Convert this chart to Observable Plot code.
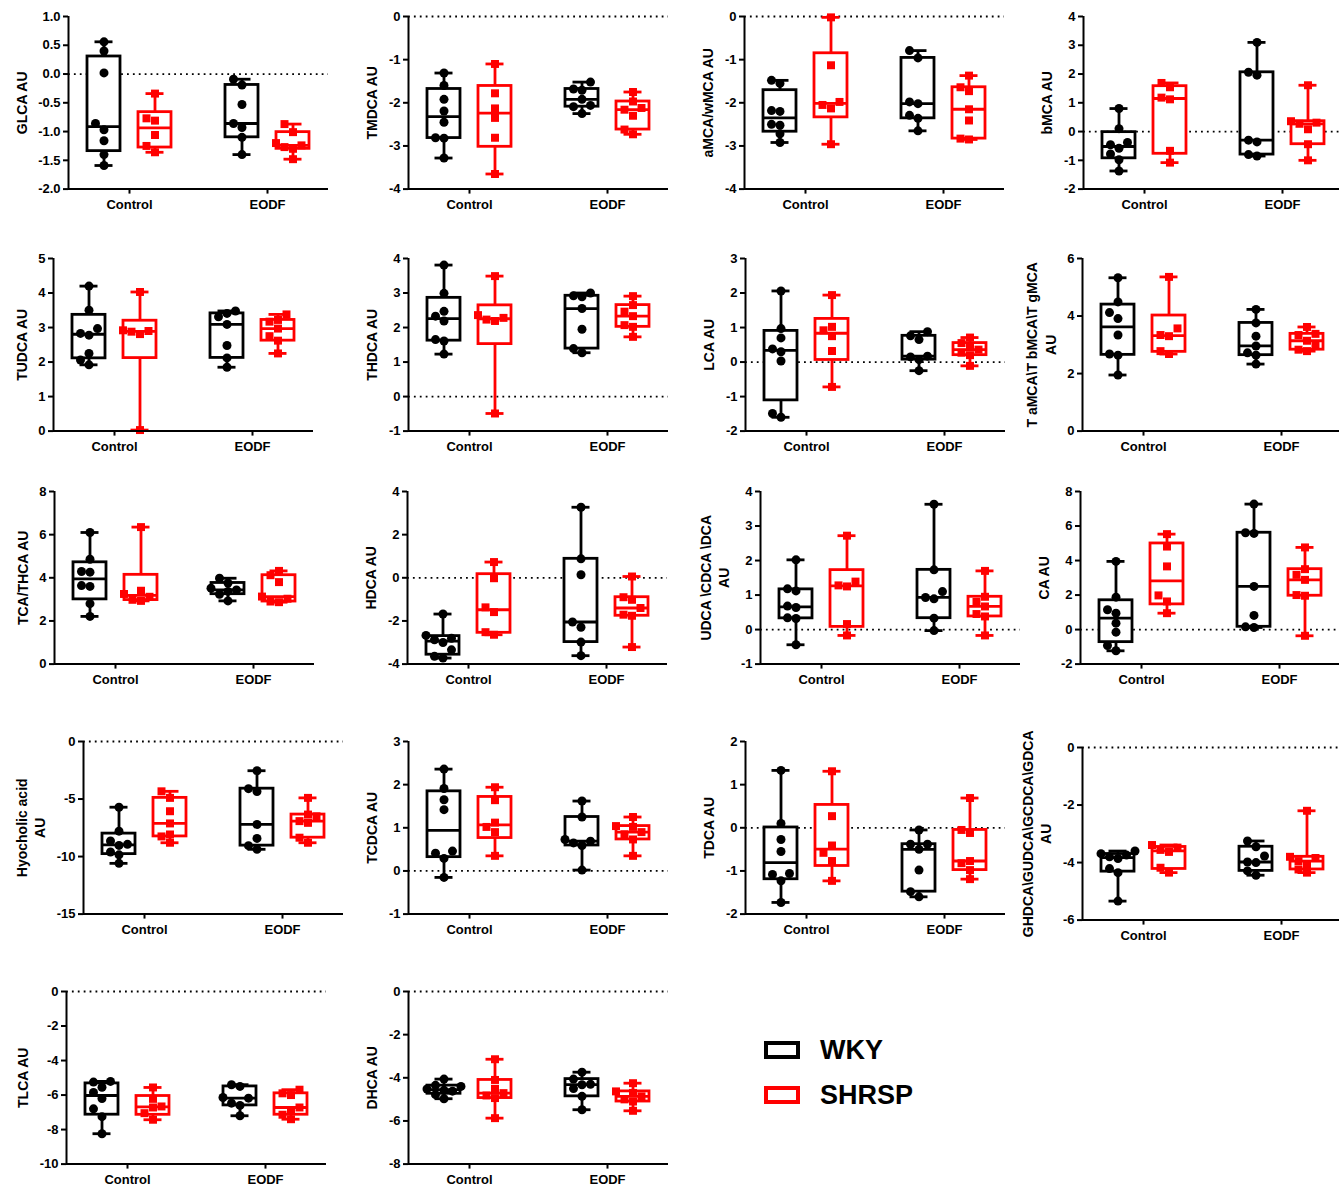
<!DOCTYPE html>
<html>
<head>
<meta charset="utf-8">
<script src="https://cdn.jsdelivr.net/npm/d3@7"></script>
<script src="https://cdn.jsdelivr.net/npm/@observablehq/plot@0.6"></script>
<style>
  html, body { margin: 0; padding: 0; background: #fff; overflow: hidden; }
  #fig { position: relative; width: 1339px; height: 1188px; overflow: hidden; background: #fff;
         font-family: "Liberation Sans", Arial, sans-serif; }
  .panel { position: absolute; }
  .legend-item { position: absolute; display: flex; align-items: center; font-weight: bold;
                 font-size: 27px; line-height: 30px; color: #000; }
  .swatch { width: 36px; height: 18px; box-sizing: border-box; border: 4px solid; margin-right: 20px; background: #fff; }
</style>
</head>
<body>
<div id="fig"></div>
<script>
// ---------------- data ----------------
const categories = ["Control", "EODF"];
const strains = ["WKY", "SHRSP"];
const strainColors = ["#000000", "#ff0000"];

// each analyte: [Control-WKY, Control-SHRSP, EODF-WKY, EODF-SHRSP]
const GLCA = [
  [0.56, 0.40, 0.02, -0.86, -0.97, -1.16, -1.40, -1.59],
  [-0.34, -0.77, -0.81, -1.06, -1.25, -1.36],
  [-0.09, -0.19, -0.53, -0.86, -0.93, -1.10, -1.40],
  [-0.87, -1.01, -1.20, -1.24, -1.27, -1.30, -1.48]
];
const TMDCA = [
  [-1.31, -1.60, -1.92, -2.19, -2.45, -2.81, -2.82, -3.28],
  [-1.10, -1.78, -2.13, -2.35, -2.81, -3.65],
  [-1.52, -1.68, -1.71, -1.92, -2.06, -2.09, -2.25],
  [-1.75, -1.97, -2.12, -2.16, -2.30, -2.62, -2.73]
];
const aMCA_wMCA = [
  [-1.48, -1.55, -2.18, -2.20, -2.50, -2.52, -2.72, -2.92],
  [-0.02, -1.13, -1.98, -2.05, -2.13, -2.96],
  [-0.79, -0.96, -1.98, -2.02, -2.29, -2.36, -2.65],
  [-1.37, -1.64, -1.73, -2.15, -2.41, -2.83, -2.85]
];
const bMCA = [
  [0.80, 0.10, -0.38, -0.46, -0.58, -0.78, -0.98, -1.37],
  [1.69, 1.54, 1.18, 1.12, -0.67, -1.08],
  [3.10, 2.06, 1.96, -0.30, -0.36, -0.80, -0.85],
  [1.61, 0.36, 0.31, 0.27, 0.08, -0.44, -1.00]
];
const TUDCA = [
  [4.20, 3.50, 2.97, 2.83, 2.78, 2.25, 2.06, 1.92],
  [4.03, 2.92, 2.90, 2.88, 2.81, 0.03],
  [3.48, 3.41, 3.31, 3.09, 2.48, 2.12, 1.85],
  [3.38, 3.22, 3.17, 2.97, 2.75, 2.62, 2.25]
];
const THDCA = [
  [3.81, 2.99, 2.47, 2.33, 2.19, 1.65, 1.61, 1.23],
  [3.49, 2.36, 2.28, 2.23, 2.19, -0.49],
  [3.00, 2.92, 2.89, 2.55, 1.95, 1.39, 1.27],
  [2.91, 2.65, 2.46, 2.33, 2.07, 2.02, 1.73]
];
const LCA = [
  [2.06, 0.97, 0.70, 0.38, 0.30, 0.03, -1.49, -1.60],
  [1.94, 1.02, 0.92, 0.75, 0.32, -0.72],
  [0.88, 0.76, 0.65, 0.17, 0.15, 0.07, -0.25],
  [0.71, 0.55, 0.44, 0.36, 0.27, 0.20, -0.11]
];
const TMCA = [
  [5.33, 4.49, 4.12, 3.91, 3.34, 2.68, 2.64, 1.95],
  [5.36, 3.57, 3.34, 3.30, 2.78, 2.68],
  [4.23, 3.76, 3.30, 2.96, 2.72, 2.64, 2.33],
  [3.62, 3.38, 3.34, 3.14, 2.99, 2.83, 2.78]
];
const TCA_THCA = [
  [6.10, 4.86, 4.29, 4.26, 3.64, 3.60, 2.80, 2.21],
  [6.35, 3.40, 3.25, 3.12, 2.98, 2.93],
  [3.98, 3.76, 3.52, 3.44, 3.37, 3.24, 2.93],
  [4.32, 4.12, 3.80, 3.13, 3.03, 2.90, 2.87]
];
const HDCA = [
  [-1.68, -2.67, -2.80, -2.87, -3.00, -3.34, -3.64, -3.72],
  [0.73, -0.02, -1.37, -1.59, -2.52, -2.64],
  [3.27, 0.88, 0.14, -2.05, -2.29, -2.98, -3.61],
  [0.06, -0.90, -1.02, -1.40, -1.71, -1.76, -3.21]
];
const UDCA_CDCA_DCA = [
  [2.02, 1.18, 1.12, 0.68, 0.64, 0.34, 0.32, -0.44],
  [2.72, 1.39, 1.28, 1.25, 0.16, -0.17],
  [3.63, 1.73, 1.10, 0.93, 0.89, 0.33, -0.03],
  [1.70, 0.95, 0.80, 0.67, 0.45, 0.38, -0.17]
];
const CA = [
  [3.95, 1.88, 1.15, 0.95, 0.37, -0.15, -0.92, -1.23],
  [5.53, 4.81, 3.66, 1.98, 1.63, 0.95],
  [7.27, 5.61, 5.57, 2.50, 0.82, 0.16, 0.12],
  [4.76, 3.50, 3.17, 2.88, 2.00, 1.96, -0.36]
];
const Hyocholic = [
  [-5.71, -7.79, -8.65, -8.94, -9.03, -9.60, -9.85, -10.59],
  [-4.33, -4.90, -6.06, -7.12, -8.08, -8.25, -8.80],
  [-2.54, -4.10, -4.35, -7.21, -8.42, -9.05, -9.37],
  [-4.90, -6.35, -6.50, -6.92, -7.07, -8.36, -8.80]
];
const TCDCA = [
  [2.36, 1.91, 1.65, 1.42, 0.46, 0.41, 0.29, -0.15],
  [1.94, 1.64, 1.12, 1.02, 0.90, 0.35],
  [1.62, 1.25, 0.73, 0.69, 0.65, 0.59, 0.02],
  [1.25, 1.04, 1.02, 0.90, 0.85, 0.73, 0.35]
];
const TDCA = [
  [1.33, 0.10, -0.27, -0.55, -1.06, -1.08, -1.23, -1.73],
  [1.31, 0.27, -0.41, -0.58, -0.77, -1.23],
  [-0.05, -0.38, -0.38, -0.50, -0.98, -1.48, -1.60],
  [0.69, -0.05, -0.12, -0.77, -0.82, -0.98, -1.19]
];
const GHDCA = [
  [-3.60, -3.69, -3.74, -3.80, -3.86, -4.21, -4.35, -5.34],
  [-3.39, -3.48, -3.56, -3.63, -4.18, -4.35],
  [-3.25, -3.45, -3.77, -3.98, -4.00, -4.29, -4.44],
  [-2.20, -3.80, -3.84, -3.95, -4.05, -4.24, -4.35]
];
const TLCA = [
  [-5.21, -5.25, -5.55, -5.85, -6.20, -6.80, -7.25, -8.24],
  [-5.56, -6.22, -6.66, -6.72, -7.05, -7.43],
  [-5.40, -5.50, -6.14, -6.18, -6.47, -6.60, -7.20],
  [-5.69, -5.90, -6.00, -6.72, -6.90, -7.14, -7.40]
];
const DHCA = [
  [-4.06, -4.35, -4.40, -4.52, -4.58, -4.62, -4.78, -4.97],
  [-3.14, -4.10, -4.51, -4.71, -4.82, -4.94, -5.87],
  [-3.74, -4.06, -4.30, -4.32, -4.50, -4.86, -5.48],
  [-4.25, -4.63, -4.70, -4.86, -5.00, -5.10, -5.53]
];

// axis labels and ticks
const yLabels = [
  "GLCA AU", "TMDCA AU", "aMCA/wMCA AU", "bMCA AU",
  "TUDCA AU", "THDCA AU", "LCA AU", "T aMCA\\T bMCA\\T gMCA\nAU",
  "TCA/THCA AU", "HDCA AU", "UDCA \\CDCA \\DCA\nAU", "CA AU",
  "Hyocholic acid\nAU", "TCDCA AU", "TDCA AU", "GHDCA\\GUDCA\\GCDCA\\GDCA\nAU",
  "TLCA AU", "DHCA AU"
];
const seriesList = [GLCA, TMDCA, aMCA_wMCA, bMCA, TUDCA, THDCA, LCA, TMCA,
  TCA_THCA, HDCA, UDCA_CDCA_DCA, CA, Hyocholic, TCDCA, TDCA, GHDCA, TLCA, DHCA];
const yTickValues = [
  [-2, -1.5, -1, -0.5, 0, 0.5, 1], [-4, -3, -2, -1, 0], [-4, -3, -2, -1, 0], [-2, -1, 0, 1, 2, 3, 4],
  [0, 1, 2, 3, 4, 5], [-1, 0, 1, 2, 3, 4], [-2, -1, 0, 1, 2, 3], [0, 2, 4, 6],
  [0, 2, 4, 6, 8], [-4, -2, 0, 2, 4], [-1, 0, 1, 2, 3, 4], [-2, 0, 2, 4, 6, 8],
  [-15, -10, -5, 0], [-1, 0, 1, 2, 3], [-2, -1, 0, 1, 2], [-6, -4, -2, 0],
  [-10, -8, -6, -4, -2, 0], [-8, -6, -4, -2, 0]
];
const yTickDecimals = [1, 0, 0, 0, 0, 0, 0, 0, 0, 0, 0, 0, 0, 0, 0, 0, 0, 0];

// ---------------- layout ----------------
// left edge (y axis) and top of each plot frame, in page pixels
const panelOrigins = [
  [68, 16], [408, 16], [744, 16], [1083, 16],
  [53, 258], [408, 258], [745, 258], [1082, 258],
  [54, 491], [407, 491], [760, 491], [1080, 491],
  [83, 741], [408, 741], [745, 741], [1082, 747],
  [66, 991], [408, 991]
];
const FONT = '"Liberation Sans", Arial, sans-serif';
const ML = 84, MR = 6, MT = 8, MB = 34, PW = 260, PH = 172.6;
const xDomain = [-0.442, 1.442];
const pxPerX = PW / (xDomain[1] - xDomain[0]);
const dodge = 25.5 / pxPerX, boxHalf = 16.5 / pxPerX, capHalf = 9 / pxPerX;
const SW = 2.8;
const TICK_FONT = 13;

// Prism-style (n+1) quantile
function quant(sorted, p) {
  const n = sorted.length, h = (n + 1) * p;
  if (h <= 1) return sorted[0];
  if (h >= n) return sorted[n - 1];
  const lo = Math.floor(h);
  return sorted[lo - 1] + (h - lo) * (sorted[lo] - sorted[lo - 1]);
}
// simple beeswarm offsets (pixels) so overlapping points spread sideways
function swarm(vals, pxPerY) {
  const order = d3.range(vals.length).sort((a, b) => vals[a] - vals[b]);
  const placed = [], off = new Array(vals.length).fill(0);
  const step = 8.5, minD = 8.2;
  for (const i of order) {
    const yp = vals[i] * pxPerY;
    let best = null;
    for (const c of [0, -1, 1, -2, 2]) {
      const xp = c * step;
      if (placed.every(p => Math.hypot(p[0] - xp, p[1] - yp) >= minD)) { best = xp; break; }
    }
    if (best === null) best = 0;
    off[i] = best; placed.push([best, yp]);
  }
  return off;
}

const ctx = document.createElement("canvas").getContext("2d");
ctx.font = `bold ${TICK_FONT}px ${FONT}`;

const fig = document.getElementById("fig");

seriesList.forEach((series, k) => {
  const ticks = yTickValues[k];
  const domain = [d3.min(ticks), d3.max(ticks)];
  const dec = yTickDecimals[k];
  const fmt = d => d.toFixed(dec);
  const pxPerY = PH / (domain[1] - domain[0]);
  const stats = [], points = [];
  series.forEach((vals, gi) => {
    const ci = Math.floor(gi / 2), si = gi % 2;
    const center = ci + (si === 0 ? -dodge : dodge);
    const s = vals.slice().sort(d3.ascending);
    stats.push({center, color: strainColors[si], min: s[0], max: s[s.length - 1],
      q1: quant(s, 0.25), med: quant(s, 0.5), q3: quant(s, 0.75)});
    const offs = swarm(vals, pxPerY);
    vals.forEach((v, i) => points.push({x: center + offs[i] / pxPerX, y: v, strain: strains[si], color: strainColors[si]}));
  });

  const label = yLabels[k];
  const nLines = label.split("\n").length;
  const maxW = d3.max(ticks, t => ctx.measureText(fmt(t)).width);
  const labelOffset = 5 + 3 + maxW + 17.5 + (nLines - 1) * 18.5 / 2;

  const chart = Plot.plot({
    width: ML + PW + MR,
    height: MT + PH + MB,
    marginLeft: ML, marginRight: MR, marginTop: MT, marginBottom: MB,
    style: {background: "transparent", overflow: "visible", maxWidth: "none",
            fontFamily: FONT, fontWeight: "bold", color: "black"},
    x: {domain: xDomain},
    y: {domain},
    symbol: {domain: strains, range: ["circle", "square"]},
    marks: [
      Plot.ruleY([0], {stroke: "black", strokeWidth: 1.8, strokeDasharray: "1.8,4.1"}),
      Plot.ruleX(stats, {x: "center", y1: "min", y2: "max", stroke: "color", strokeWidth: SW}),
      Plot.ruleY(stats, {x1: d => d.center - capHalf, x2: d => d.center + capHalf, y: "min", stroke: "color", strokeWidth: SW}),
      Plot.ruleY(stats, {x1: d => d.center - capHalf, x2: d => d.center + capHalf, y: "max", stroke: "color", strokeWidth: SW}),
      Plot.rect(stats, {x1: d => d.center - boxHalf, x2: d => d.center + boxHalf, y1: "q1", y2: "q3",
                        fill: "white", stroke: "color", strokeWidth: SW}),
      Plot.ruleY(stats, {x1: d => d.center - boxHalf, x2: d => d.center + boxHalf, y: "med", stroke: "color", strokeWidth: SW}),
      Plot.dot(points, {x: "x", y: "y", symbol: "strain", fill: "color", stroke: "none", r: 4.5}),
      Plot.ruleX([xDomain[0]], {stroke: "black", strokeWidth: 2}),
      Plot.ruleY([domain[0]], {stroke: "black", strokeWidth: 2}),
      Plot.axisY({ticks, tickFormat: fmt, tickSize: 5, tickPadding: 3, strokeWidth: 2,
                  fontSize: TICK_FONT, fontWeight: "bold", label: null}),
      Plot.axisX({ticks: [0, 1], tickFormat: i => categories[i], tickSize: 5, tickPadding: 6,
                  strokeWidth: 2, fontSize: 13, fontWeight: "bold", label: null}),
      Plot.text([label], {text: d => d, frameAnchor: "left", rotate: -90, textAnchor: "middle",
                          lineAnchor: "middle", dx: -labelOffset, fontSize: 14, fontWeight: "bold",
                          lineHeight: 1.32, fill: "black"})
    ]
  });

  const [ax, top] = panelOrigins[k];
  const div = document.createElement("div");
  div.className = "panel";
  div.style.left = (ax - ML) + "px";
  div.style.top = (top - MT) + "px";
  div.style.width = (ML + PW + MR) + "px";
  div.appendChild(chart);
  fig.appendChild(div);
});

// legend (HTML, alongside the charts)
const legendTops = [1035, 1080];
strains.forEach((s, i) => {
  const item = document.createElement("div");
  item.className = "legend-item";
  item.style.left = "764px";
  item.style.top = legendTops[i] + "px";
  const sw = document.createElement("span");
  sw.className = "swatch";
  sw.style.borderColor = strainColors[i];
  item.appendChild(sw);
  item.appendChild(document.createTextNode(s));
  fig.appendChild(item);
});
</script>
</body>
</html>
